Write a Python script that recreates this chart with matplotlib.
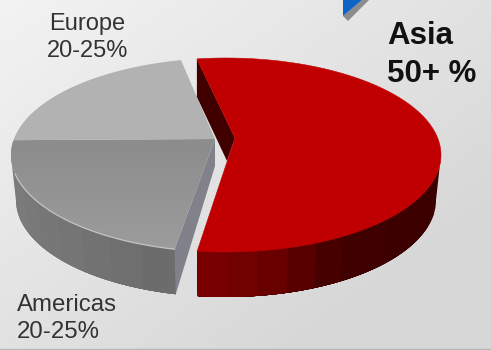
import numpy as np
import matplotlib
matplotlib.use('Agg')
import matplotlib.pyplot as plt
from matplotlib.colors import LinearSegmentedColormap
from matplotlib.patches import Polygon

# Regional shares in percent, measured round the tilted pie
regions = ['Asia', 'Europe', 'Americas']
shares = [54.3, 19.2, 23.6]
labels = ['Asia\n50+ %', 'Europe\n20-25%', 'Americas\n20-25%']

plt.rcParams['font.family'] = ['Liberation Sans', 'DejaVu Sans']

# Pie geometry in pixels
cx, cy = 226, 155
a_top, b_top = 215, 97
a_bot, depth = 210, 45
start_angle = -97.7
gaps = [4.3, 0.0, 6.3]
apex = {'Asia': (235, 138), 'Europe': (215, 139), 'Americas': (215, 139)}


def top_arc(t0, t1, n=80):
    t = np.radians(np.linspace(t0, t1, n))
    return np.column_stack([cx + a_top * np.cos(t), cy - b_top * np.sin(t)])


def bottom_arc(t0, t1, n=80):
    t = np.radians(np.linspace(t0, t1, n))
    return np.column_stack([cx + a_bot * np.cos(t), cy + depth - b_top * np.sin(t)])


def draw_side(ax, t0, t1, cmap, n_bands):
    # rim of the disc, each facet runs on under the next so no seams show
    edges = np.linspace(t0, t1, n_bands + 1)
    for i in range(n_bands):
        pts = np.vstack([top_arc(edges[i], t1, 60), bottom_arc(t1, edges[i], 60)])
        ax.add_patch(Polygon(pts, closed=True, fc=cmap((i + 0.5) / n_bands), ec='none', zorder=2))


fig = plt.figure(figsize=(4.91, 3.5), dpi=100)
ax = fig.add_axes([0, 0, 1, 1])
ax.set_xlim(0, 491)
ax.set_ylim(350, 0)
ax.axis('off')

# Diagonal grey backdrop
yy, xx = np.mgrid[0:350, 0:491]
bg = 0.62 * xx / 491 + 0.62 * yy / 350
ax.imshow(bg, cmap=LinearSegmentedColormap.from_list('bg', ['#f3f3f3', '#d7d7d7']), vmin=0, vmax=1.0,
          extent=(0, 491, 350, 0), aspect='auto', zorder=0)
ax.axhline(349, color='#b8b8b8', lw=1, zorder=1)

# Corner of the blue arrow at the top
ax.add_patch(Polygon([(343, 16), (348, 21), (369, 0), (362, 0)], fc='#8c8c8c', ec='none', zorder=1))
ax.add_patch(Polygon([(343, 0), (343, 16), (362, 0)], fc='#0f62c6', ec='none', zorder=1))

# Work out the arc each wedge covers
arcs = {}
t = start_angle
for name, share, gap in zip(regions, shares, gaps):
    arcs[name] = (t, t + share * 3.6)
    t += share * 3.6 + gap

red_side = LinearSegmentedColormap.from_list('red_side', ['#3c0000', '#3c0000', '#3c0000', '#420000', '#6a0000', '#7c0000'])
grey_side = LinearSegmentedColormap.from_list('grey_side', ['#7e7e7e', '#7a7a7a', '#747474', '#6a6a6a'])

# Grey wedges first, Asia sits in front of them
t0, t1 = arcs['Americas']
draw_side(ax, t0, t1, grey_side, 9)
ax0, ay0 = apex['Americas']
end = top_arc(t1, t1, 1)[0]
end_b = bottom_arc(t1, t1, 1)[0]
ax.add_patch(Polygon([(ax0, ay0), end, end_b, (ax0, ay0 + 27)], fc='#80818a', ec='none', zorder=2))

am_top = Polygon(np.vstack([[apex['Americas']], top_arc(t0, t1)]), fc='none', ec='none', zorder=3)
ax.add_patch(am_top)
yy2 = np.linspace(0, 1, 100)[:, None]
im = ax.imshow(yy2, cmap=LinearSegmentedColormap.from_list('am', ['#8c8c8c', '#9c9c9c']),
               extent=(0, 491, 250, 139), aspect='auto', zorder=3)
im.set_clip_path(am_top)
ax.plot(*top_arc(t0 + 20, t1).T, color='#c4c4c0', lw=0.9, zorder=4)

t0, t1 = arcs['Europe']
ax.add_patch(Polygon(np.vstack([[apex['Europe']], top_arc(t0, t1)]), fc='#b2b2b2', ec='none', zorder=3))

# Asia: front rim, inner wall, then the top face
t0, t1 = arcs['Asia']
draw_side(ax, t0 + 97.7, t0, red_side, 12)
ax0, ay0 = apex['Asia']
back = top_arc(t1, t1, 1)[0]
ax.add_patch(Polygon([back, (back[0], back[1] + 38), (227, 161), (ax0, ay0)], fc='#400000', ec='none', zorder=4))
ax.add_patch(Polygon(np.vstack([[apex['Asia']], top_arc(t0, t1)]), fc='#c00000', ec='#c00000', lw=0.4, zorder=5))

# Labels
ax.text(87.5, 37.5, labels[1], color='#333333', fontsize=17, ha='center', va='center', linespacing=1.27, zorder=6)
ax.text(17, 318.5, labels[2], color='#333333', fontsize=17.3, ha='left', va='center', linespacing=1.25, zorder=6)
ax.text(387, 55, labels[0], color='#111111', fontsize=22.5, fontweight='bold', ha='left', va='center', linespacing=1.32, zorder=6)

fig.savefig('out.png', dpi=100)
